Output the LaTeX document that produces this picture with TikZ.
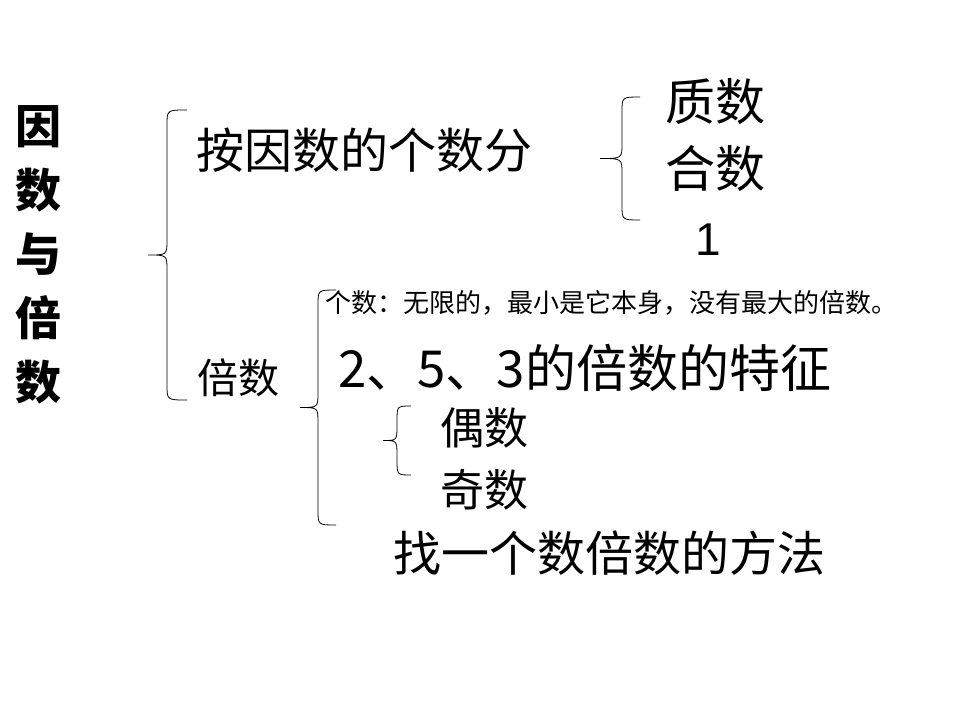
\documentclass[tikz,border=0pt]{standalone}
\usepackage{fontspec}
\setmainfont{Liberation Sans}
\newfontfamily\cjk{Noto Sans CJK SC}
\newcommand{\mybrace}[5]{% xl xm xr ytop ybot (y down positive)
 \pgfmathsetmacro{\ym}{(#4+#5)/2}
 \draw[brc] (#3,-#4) .. controls (#2,-#4) .. (#2,-#4-15) -- (#2,-\ym+15) .. controls (#2,-\ym) .. (#1,-\ym)
  .. controls (#2,-\ym) .. (#2,-\ym-15) -- (#2,-#5+15) .. controls (#2,-#5) .. (#3,-#5);}
\begin{document}
\begin{tikzpicture}[x=1pt,y=1pt,
 brc/.style={line width=0.8pt},
 t/.style={anchor=west,inner sep=0pt,font=\cjk}]
\useasboundingbox[fill=white] (0,0) rectangle (960,-720);
\node[inner sep=0pt,font=\cjk\bfseries\fontsize{46}{64}\selectfont,align=center] (title) at (38,-255) {因\\数\\与\\倍\\数};
\mybrace{148}{167}{187}{110}{400}
\mybrace{300}{318}{336}{290}{525}
\mybrace{600}{622}{640}{97}{220}
\mybrace{383}{397}{411}{406}{475}
\node[t,font=\cjk\fontsize{48}{50}\selectfont] (a) at (196,-150) {按因数的个数分};
\node[t,font=\cjk\fontsize{50}{50}\selectfont] (zs) at (665,-102) {质数};
\node[t,font=\cjk\fontsize{50}{50}\selectfont] (hs) at (665,-168) {合数};
\node[t,font=\fontsize{46}{50}\selectfont] (one) at (695,-240) {1};
\node[t,font=\cjk\fontsize{26}{28}\selectfont] (s) at (325,-303) {个数：无限的，最小是它本身，没有最大的倍数。};
\node[t,font=\cjk\fontsize{41}{46}\selectfont] (bs) at (197,-378) {倍数};
\node[t,font=\cjk\fontsize{51}{54}\selectfont] (tz) at (338,-368) {2、5、3的倍数的特征};
\node[t,font=\cjk\fontsize{44}{50}\selectfont] (os) at (440,-428) {偶数};
\node[t,font=\cjk\fontsize{44}{50}\selectfont] (js) at (440,-490) {奇数};
\node[t,font=\cjk\fontsize{48}{50}\selectfont] (ff) at (393,-553) {找一个数倍数的方法};
\end{tikzpicture}
\end{document}
